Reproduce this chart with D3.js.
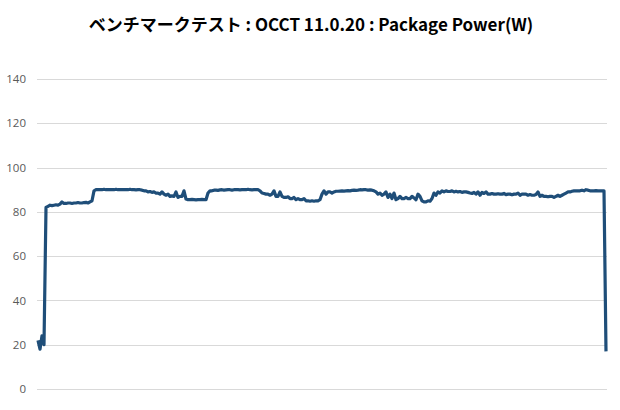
<!DOCTYPE html>
<html>
<head>
<meta charset="utf-8">
<script src="https://cdn.jsdelivr.net/npm/d3@7"></script>
<style>
  html, body { margin: 0; padding: 0; background: #fff; }
  svg { display: block; }
</style>
</head>
<body>
<svg id="chart" width="620" height="410"></svg>
<script>
const title = "ベンチマークテスト : OCCT 11.0.20 : Package Power(W)";
const yTicks = [0, 20, 40, 60, 80, 100, 120, 140];
// Package power samples (W) at even intervals
const powerW = [
  22,18,24,20,82,82.5,83,82.8,83,83.2,
  83,83.5,84.5,83.8,83.8,84,84,83.8,84,84,
  84.2,84,84,84.2,84.3,84,84.5,85,89.5,90,
  90,90.1,90,90.2,90,90,90.1,90,90,90.2,
  90,90,90.1,90,90,90,90.2,90,90,89.9,
  90,90,89.8,89.5,89.5,89,89.2,88.8,89,88.5,
  88.5,88,89,88,87.5,88,87,87.2,87,89,
  86.5,87,87,89.5,85.8,85.5,85.5,85.6,85.5,85.4,
  85.5,85.5,85.6,85.5,85.5,88.5,89.5,89.5,89.8,89.8,
  89.7,89.9,90,89.8,89.9,90,90,89.8,90,90.1,
  90,89.9,90,90.1,90,90.2,90,89.9,90,90,
  90,89.5,88.5,88.3,88,88,87.5,88,89.5,87,
  87,89,87,86.5,86.5,86.8,86,86,86.5,85.5,
  86,85.5,85.5,86,85,85,84.8,85,84.8,85,
  85,85.5,88,89.5,88,89,89,88.5,89,89.3,
  89.3,89.4,89.5,89.4,89.5,89.6,89.5,89.7,89.8,89.7,
  89.8,90,89.9,90,90,89.8,89.9,89.8,89.5,89,
  88,88.5,87.5,88,89,86.5,88,86,88.5,85.5,
  86,87,86,86,86.5,86,86,87,86.3,85.5,
  88,87,85,84.5,84.5,85,84.8,86,88.5,87.5,
  89,88.5,89.5,89,89.5,89.2,89.2,89.5,89,89.3,
  89,89.2,88.8,89,89,88.8,88.5,88.3,88.8,88,
  89,87.5,88.8,88.3,89,88,88,88.3,88,88,
  88.2,88,88,88.3,87.8,88,88,87.7,88,88,
  88.5,87.5,88,88,88,87.5,87.8,87.5,87.5,87.8,
  89,87,87.5,87,87,86.8,87,87,86.5,87,
  87.5,87,87.5,88,88.5,89,89,89.3,89.5,89.5,
  89.5,89.5,89.8,89.5,90,89.8,89.5,89.5,89.5,89.6,
  89.5,89.5,89.5,89.5,17
];

const svg = d3.select("#chart");
const W = 620, H = 410;
const plot = { left: 37, right: 607, top: 79, bottom: 389 };

const x = d3.scaleLinear().domain([0, powerW.length - 1]).range([38, 606]);
const y = d3.scaleLinear().domain([0, 140]).range([plot.bottom, plot.top]);

svg.append("text")
  .attr("x", W / 2 + 1)
  .attr("y", 31)
  .attr("text-anchor", "middle")
  .attr("font-family", "'Noto Sans CJK JP', 'Noto Sans', sans-serif")
  .attr("font-weight", "bold")
  .attr("font-size", 17)
  .attr("fill", "#000")
  .text(title);

// gridlines
svg.append("g")
  .selectAll("line")
  .data(yTicks)
  .join("line")
  .attr("x1", plot.left)
  .attr("x2", plot.right)
  .attr("y1", d => Math.round(y(d)) + 0.5)
  .attr("y2", d => Math.round(y(d)) + 0.5)
  .attr("stroke", "#d9d9d9")
  .attr("stroke-width", 1);

// y axis labels
const yAxis = d3.axisLeft(y).tickValues(yTicks).tickSize(0).tickPadding(0);
const gy = svg.append("g").attr("transform", "translate(26,0)").call(yAxis);
gy.select(".domain").remove();
gy.selectAll("text")
  .attr("font-family", "'Open Sans', 'Liberation Sans', sans-serif")
  .attr("font-size", 11.5)
  .attr("fill", "#595959");

const line = d3.line()
  .x((d, i) => x(i))
  .y(d => y(d));

svg.append("path")
  .datum(powerW)
  .attr("d", line)
  .attr("fill", "none")
  .attr("stroke", "#1f4e79")
  .attr("stroke-width", 3.2)
  .attr("stroke-linejoin", "round")
  .attr("stroke-linecap", "butt");
</script>
</body>
</html>
